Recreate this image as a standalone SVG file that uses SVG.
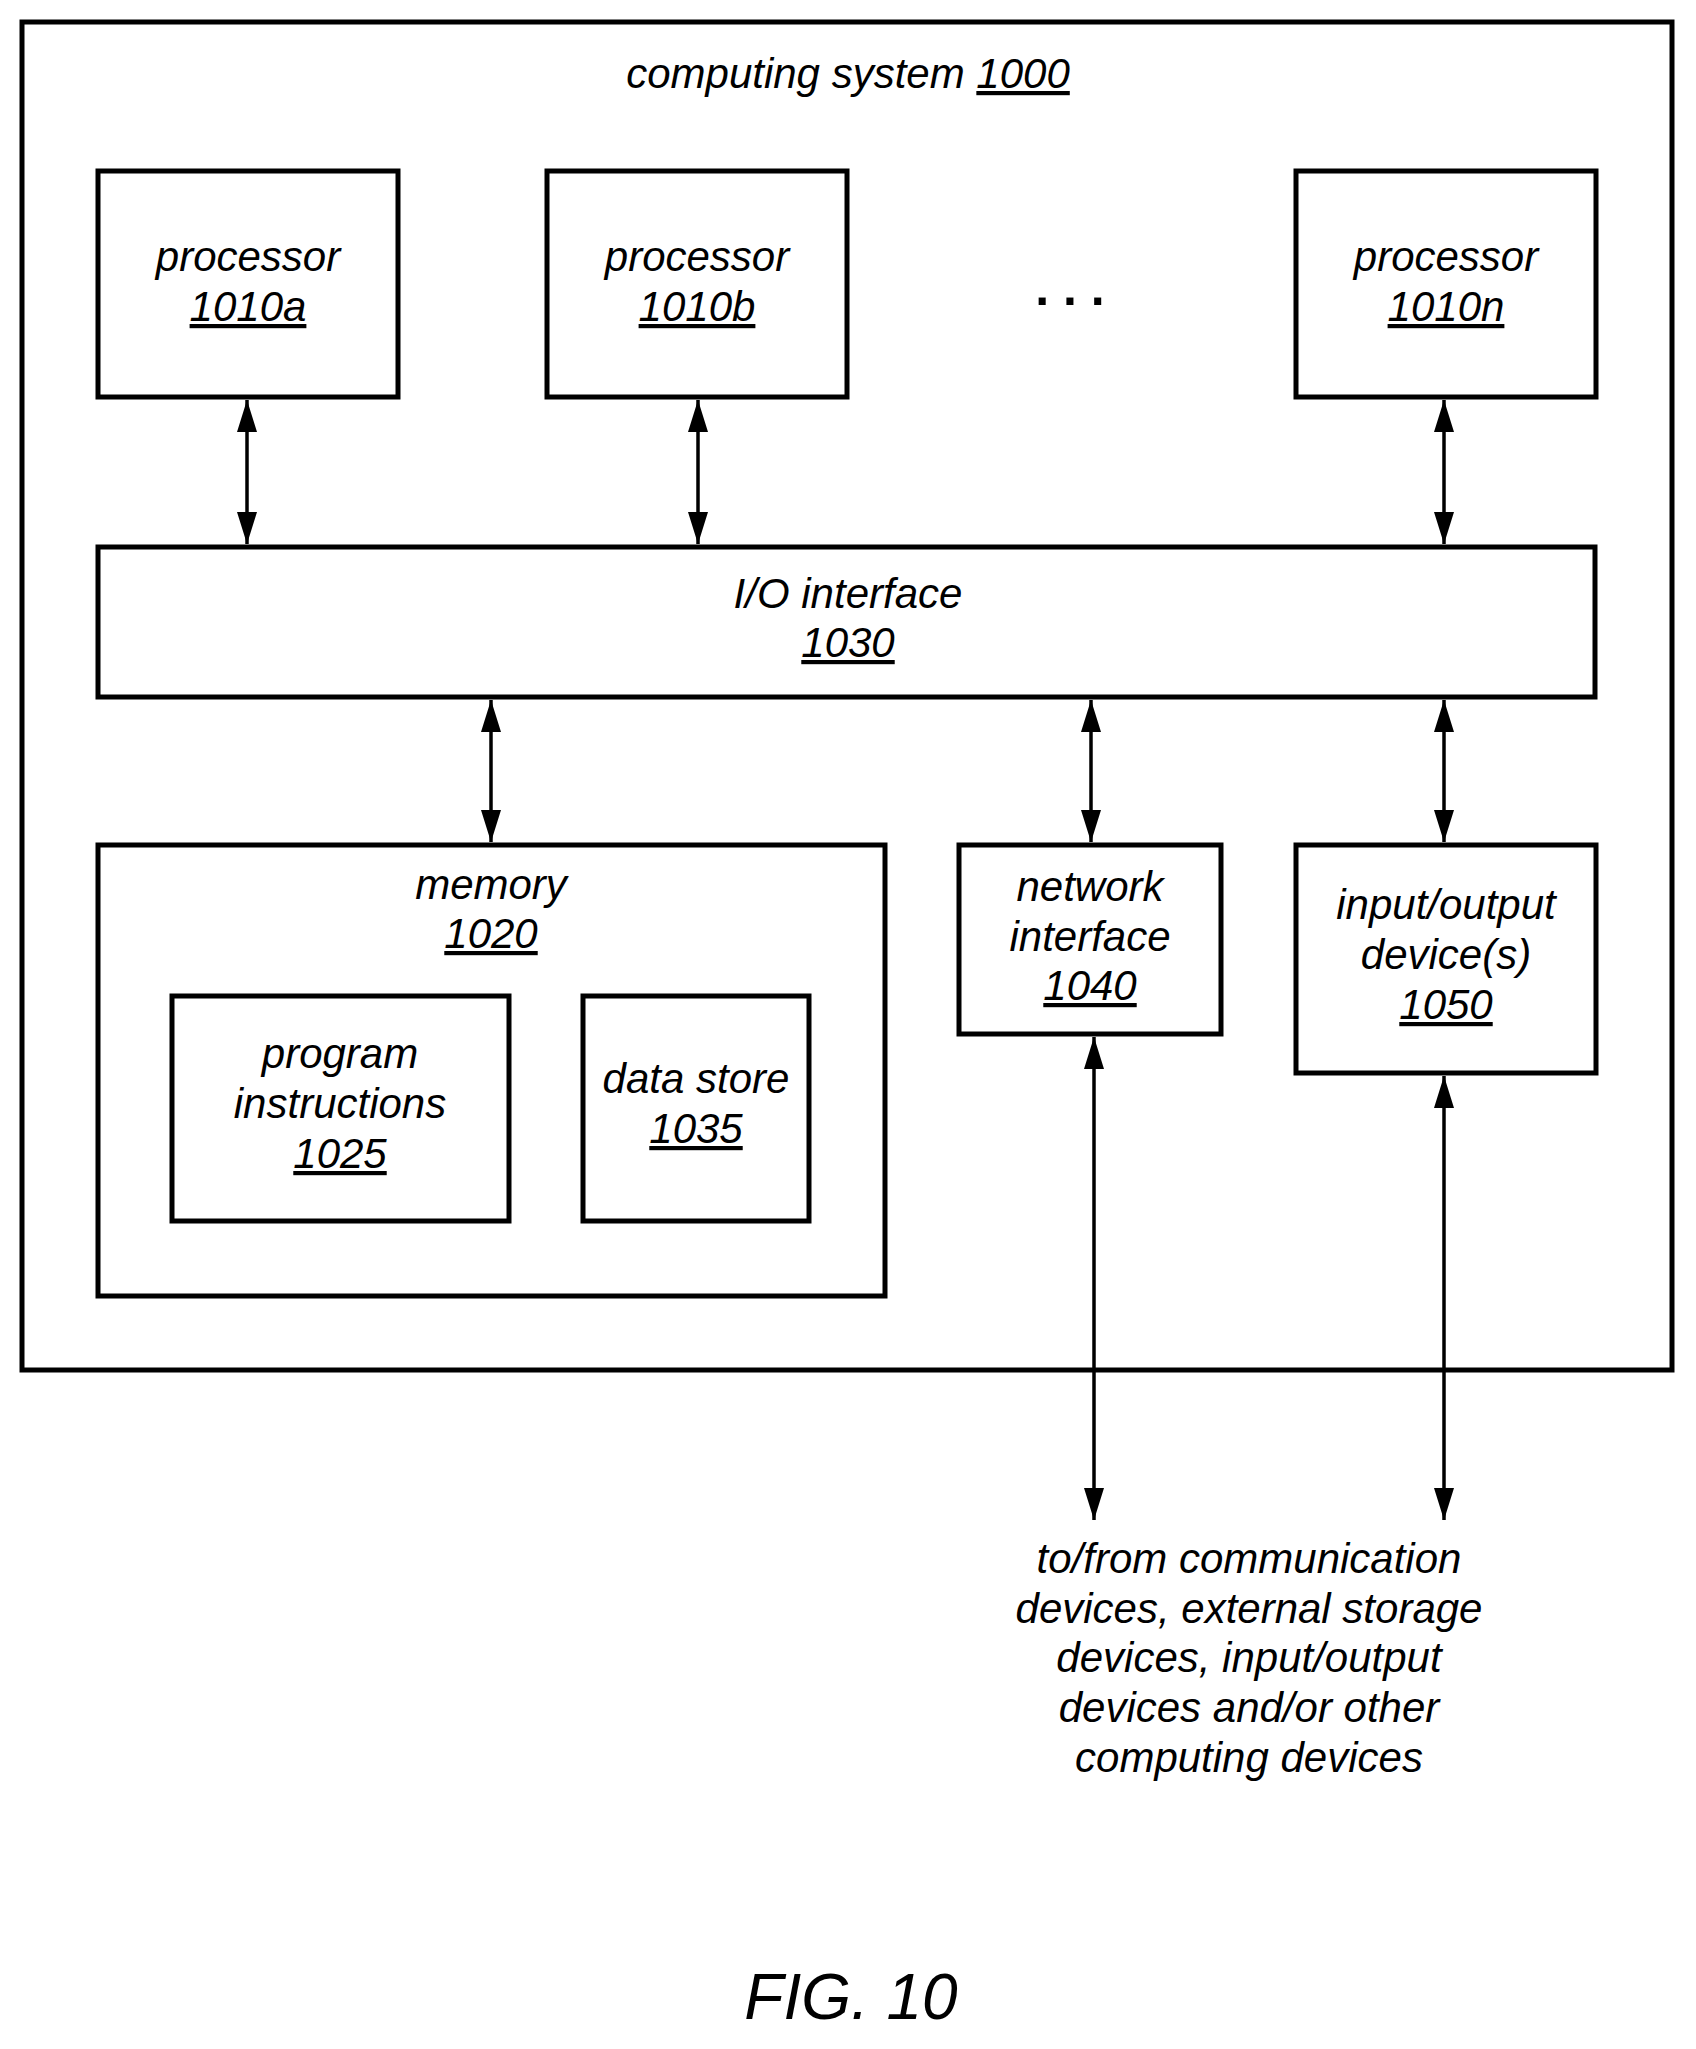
<svg xmlns="http://www.w3.org/2000/svg" width="1696" height="2049" viewBox="0 0 1696 2049">
<style>
.b{fill:none;stroke:#000;stroke-width:5}
.t{font-family:"Liberation Sans Narrow","Liberation Sans",sans-serif;font-style:italic;font-size:42px;text-anchor:middle;fill:#000}
.u{text-decoration:underline}
.c{stroke:#000;stroke-width:3.5;fill:none;marker-start:url(#a);marker-end:url(#a)}
</style>
<defs>
<marker id="a" markerWidth="32" markerHeight="20" refX="32" refY="10" viewBox="0 0 32 20" orient="auto-start-reverse" markerUnits="userSpaceOnUse"><path d="M0,0 L32,10 L0,20 Z" fill="#000"/></marker>
</defs>
<rect width="1696" height="2049" fill="#fff"/>
<g id="system"><rect class="b" x="22" y="22" width="1650" height="1348"/>
<text class="t" x="848" y="88">computing system <tspan class="u">1000</tspan></text></g>
<g id="p1010a"><rect class="b" x="98" y="171" width="300" height="226"/>
<text class="t" x="248" y="271">processor</text><text class="t u" x="248" y="321"> 1010a</text></g>
<g id="p1010b"><rect class="b" x="547" y="171" width="300" height="226"/>
<text class="t" x="697" y="271">processor</text><text class="t u" x="697" y="321"> 1010b</text></g>
<g id="dots"><text class="t" x="1070" y="305" style="font-weight:bold;font-style:normal;font-size:50px">. . .</text></g>
<g id="p1010n"><rect class="b" x="1296" y="171" width="300" height="226"/>
<text class="t" x="1446" y="271">processor</text><text class="t u" x="1446" y="321"> 1010n</text></g>
<g id="io1030"><rect class="b" x="98" y="547" width="1497" height="150"/>
<text class="t" x="848" y="608">I/O interface</text><text class="t u" x="848" y="657"> 1030</text></g>
<g id="mem1020"><rect class="b" x="98" y="845" width="787" height="451"/>
<text class="t" x="491" y="899">memory</text><text class="t u" x="491" y="948"> 1020</text></g>
<g id="pi1025"><rect class="b" x="172" y="996" width="337" height="225"/>
<text class="t" x="340" y="1068">program</text><text class="t" x="340" y="1118">instructions</text><text class="t u" x="340" y="1168">1025</text></g>
<g id="ds1035"><rect class="b" x="583" y="996" width="226" height="225"/>
<text class="t" x="696" y="1093">data store</text><text class="t u" x="696" y="1143">1035</text></g>
<g id="ni1040"><rect class="b" x="959" y="845" width="262" height="189"/>
<text class="t" x="1090" y="901">network</text><text class="t" x="1090" y="951">interface</text><text class="t u" x="1090" y="1000"> 1040</text></g>
<g id="iod1050"><rect class="b" x="1296" y="845" width="300" height="228"/>
<text class="t" x="1446" y="919">input/output</text><text class="t" x="1446" y="969">device(s)</text><text class="t u" x="1446" y="1019"> 1050</text></g>
<g id="ext"><text class="t" x="1249" y="1573">to/from communication</text><text class="t" x="1249" y="1623">devices, external storage</text><text class="t" x="1249" y="1672">devices, input/output</text><text class="t" x="1249" y="1722">devices and/or other</text><text class="t" x="1249" y="1772">computing devices</text></g>
<g id="connectors">
<line class="c" x1="247" y1="400" x2="247" y2="544"/>
<line class="c" x1="698" y1="400" x2="698" y2="544"/>
<line class="c" x1="1444" y1="400" x2="1444" y2="544"/>
<line class="c" x1="491" y1="700" x2="491" y2="842"/>
<line class="c" x1="1091" y1="700" x2="1091" y2="842"/>
<line class="c" x1="1444" y1="700" x2="1444" y2="842"/>
<line class="c" x1="1094" y1="1037" x2="1094" y2="1520"/>
<line class="c" x1="1444" y1="1076" x2="1444" y2="1520"/>
</g>
<text x="851" y="2019" style="font-family:'Liberation Sans',sans-serif;font-style:italic;font-size:64px;text-anchor:middle">FIG. 10</text>
</svg>
